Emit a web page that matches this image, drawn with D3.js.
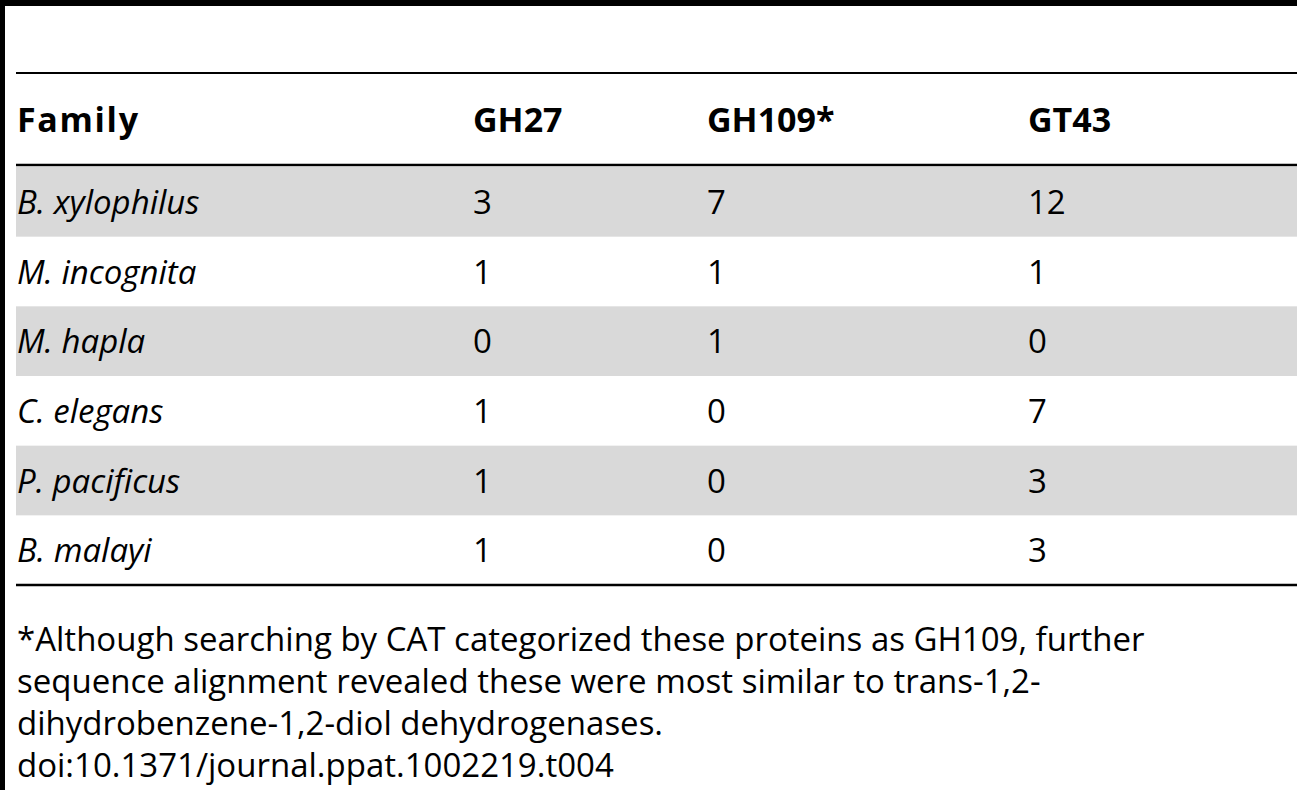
<!DOCTYPE html>
<html><head><meta charset="utf-8">
<script src="https://cdn.jsdelivr.net/npm/d3@7"></script>
<style>body{margin:0;background:#fff}svg{display:block}</style>
</head><body>
<script>
const columns = ["Family", "GH27", "GH109*", "GT43"];
const species = ["B. xylophilus","M. incognita","M. hapla","C. elegans","P. pacificus","B. malayi"];
const gh27 = [3,1,0,1,1,1];
const gh109 = [7,1,1,0,0,0];
const gt43 = [12,1,0,7,3,3];
const footnote = [
 "*Although searching by CAT categorized these proteins as GH109, further",
 "sequence alignment revealed these were most similar to trans-1,2-",
 "dihydrobenzene-1,2-diol dehydrogenases.",
 "doi:10.1371/journal.ppat.1002219.t004"];

const W=1297,H=800;
const svg=d3.select("body").append("svg").attr("width",W).attr("height",H);
const font="'Open Sans', 'Noto Sans', sans-serif";
const x=d3.scaleOrdinal().domain(columns).range([17,473,707,1028]);
const y=d3.scaleBand().domain(species).range([167,585]);

svg.append("rect").attr("x",0).attr("y",0).attr("width",5).attr("height",790).attr("fill","#000");
svg.append("rect").attr("x",0).attr("y",0).attr("width",W).attr("height",6).attr("fill","#000");

species.forEach((s,i)=>{ if(i%2===0) svg.append("rect").attr("x",16).attr("y",y(s)).attr("width",W-16).attr("height",y.bandwidth()).attr("fill","#d9d9d9");});
[[73,2],[165,2.5],[585,2.5]].forEach(([yy,t])=>svg.append("rect").attr("x",16).attr("y",yy-t/2).attr("width",W-16).attr("height",t).attr("fill","#000"));

columns.forEach(c=>svg.append("text").attr("x",x(c)).attr("y",132).attr("font-family",font).attr("font-weight","bold").attr("font-size",34).attr("textLength",c==="Family"?121:null).text(c));

const vals=[gh27,gh109,gt43];
species.forEach((s,i)=>{
  const by=y(s)+y.bandwidth()/2+12;
  svg.append("text").attr("x",x("Family")).attr("y",by).attr("font-family",font).attr("font-style","italic").attr("font-size",33).text(s);
  vals.forEach((v,j)=>svg.append("text").attr("x",x(columns[j+1])).attr("y",by).attr("font-family",font).attr("font-size",33).text(v[i]));
});
footnote.forEach((t,i)=>svg.append("text").attr("x",17).attr("y",651+i*42).attr("font-family",font).attr("font-size",33).text(t));
</script>
</body></html>
